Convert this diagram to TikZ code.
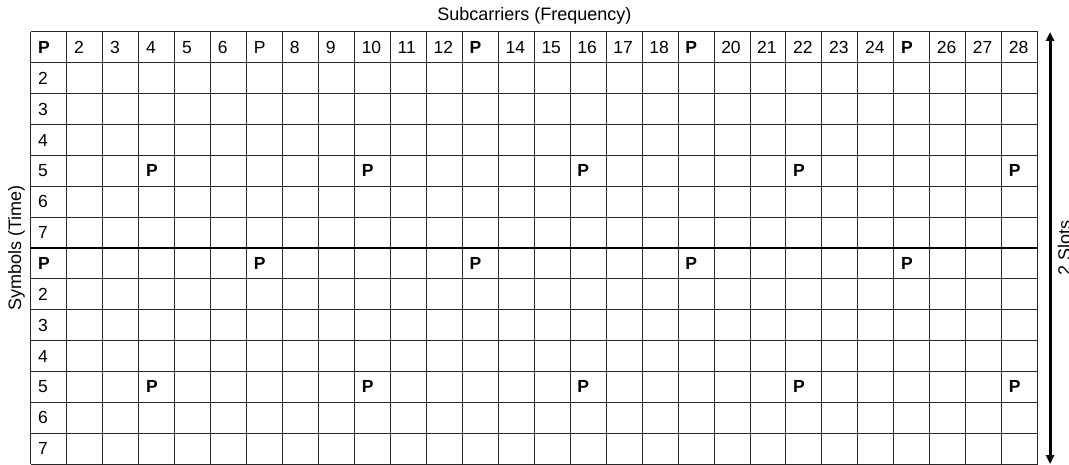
\documentclass[tikz,border=0pt]{standalone}
\usepackage{fontspec}
\setmainfont{Liberation Sans}
\usetikzlibrary{arrows.meta,positioning}

\begin{document}
\begin{tikzpicture}[x=35.95pt,y=-30.86pt,
		gridline/.style={black!85,line width=1pt},
		cell/.style={anchor=west,inner sep=0pt,xshift=7pt,font=\fontsize{17.5}{19}\selectfont},
		pilot/.style={cell,font=\fontsize{17.5}{19}\selectfont\bfseries},
		axislabel/.style={inner sep=0pt,font=\fontsize{18}{20}\selectfont}]
			\useasboundingbox (-31pt,32pt) rectangle (1038pt,-433pt);
			\foreach \c in {0,...,28}
				\draw[gridline] (\c,0) -- (\c,14);
			\foreach \r in {0,...,14}
				\draw[gridline] (0,\r) -- (28,\r);
			\draw[line width=2.8pt] (0,7) -- (28,7);
			\foreach \c in {2,3,4,5,6,8,9,10,11,12,14,15,16,17,18,20,21,22,23,24,26,27,28}
				\node[cell] (h\c) at (\c-1,0.5) {\c};
			\node[cell] (h7) at (6,0.5) {P};
			\foreach \c in {1,13,19,25}
				\node[pilot] (h\c) at (\c-1,0.5) {P};
			\foreach \r in {2,...,7} {
				\node[cell] (sa\r) at (0,\r-0.5) {\r};
				\node[cell] (sb\r) at (0,\r+6.5) {\r};
			}
			\foreach \c in {1,7,13,19,25}
				\node[pilot] (pb\c) at (\c-1,7.5) {P};
			\foreach \c in {4,10,16,22,28} {
				\node[pilot] (pa\c) at (\c-1,4.5) {P};
				\node[pilot] (pc\c) at (\c-1,11.5) {P};
			}
			\coordinate (topmid) at (14,0);
			\coordinate (leftmid) at (0,7);
			\coordinate (rightmid) at (28,7);
			\coordinate[xshift=12.5pt] (slottop) at (28,0);
			\coordinate[xshift=12.5pt] (slotbot) at (28,14);
			\node[axislabel,above=8pt of topmid] (freq) {Subcarriers (Frequency)};
			\node[axislabel,rotate=90,anchor=south] (symb) at ([xshift=-6pt]leftmid) {Symbols (Time)};
			\draw[{Triangle[length=9pt,width=8pt]}-{Triangle[length=9pt,width=8pt]},line width=2.8pt] (slottop) -- (slotbot);
			\node[axislabel,rotate=90,anchor=north] (slots) at ([xshift=20pt]rightmid) {2 Slots};
		\end{tikzpicture}
\end{document}
